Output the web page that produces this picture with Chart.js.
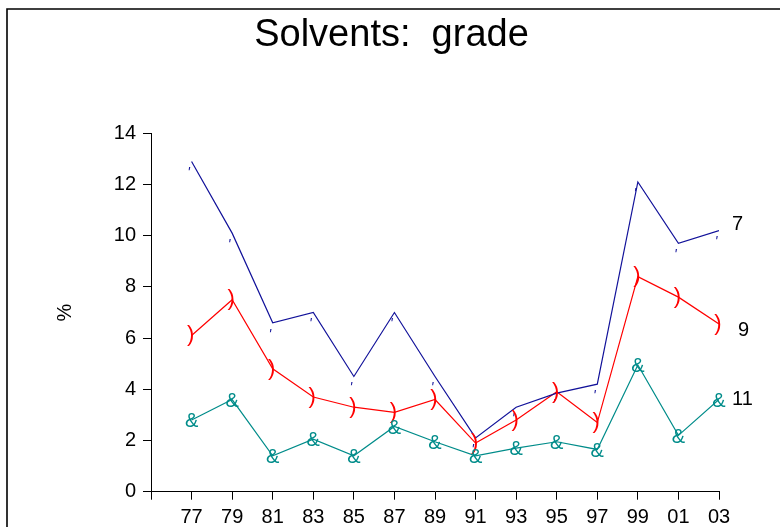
<!DOCTYPE html>
<html>
<head>
<meta charset="utf-8">
<script src="https://cdn.jsdelivr.net/npm/chart.js@4/dist/chart.umd.min.js"></script>
<style>
  html, body { margin: 0; padding: 0; background: #fff; }
  #wrap { width: 780px; height: 527px; }
</style>
</head>
<body>
<div id="wrap"><canvas id="chart" width="780" height="527"></canvas></div>
<script>
const years = ['77', '79', '81', '83', '85', '87', '89', '91', '93', '95', '97', '99', '01', '03'];
const seriesNames = ['7', '9', '11'];
const grade7 = [12.9, 10.1, 6.6, 7.0, 4.5, 7.0, 4.5, 2.1, 3.3, 3.85, 4.2, 12.1, 9.7, 10.2];
const grade9 = [6.1, 7.5, 4.8, 3.7, 3.3, 3.1, 3.6, 1.9, 2.8, 3.9, 2.7, 8.4, 7.6, 6.55];
const grade11 = [2.8, 3.6, 1.4, 2.05, 1.4, 2.55, 1.95, 1.4, 1.7, 1.95, 1.65, 4.95, 2.2, 3.6];
const yTicks = [0, 2, 4, 6, 8, 10, 12, 14];

const FONT = "'Liberation Sans', Arial, Helvetica, sans-serif";

// glyph markers drawn on top of each point, plus the series name at the line end
const markerStyle = [
  { glyph: "'", font: 'italic 14px ' + FONT, dx: -3, dy: 7.5 + 8.3, lab: { dx: 13, dy: -6 } },
  { glyph: ')', font: '22px ' + FONT, dx: -1, dy: 5.7, lab: { dx: 19, dy: 6 } },
  { glyph: '&', font: '20px ' + FONT, dx: 0, dy: 7.2, lab: { dx: 13, dy: 0 } }
];

const frame = {
  id: 'frame',
  beforeDraw(chart) {
    const ctx = chart.ctx;
    ctx.save();
    ctx.fillStyle = '#fff';
    ctx.fillRect(0, 0, chart.width, chart.height);
    ctx.strokeStyle = '#000';
    ctx.lineWidth = 1.6;
    ctx.beginPath();
    ctx.moveTo(7, chart.height + 2);
    ctx.lineTo(7, 9);
    ctx.lineTo(chart.width + 2, 9);
    ctx.stroke();
    ctx.restore();
  }
};

const markers = {
  id: 'markers',
  afterDatasetsDraw(chart) {
    const ctx = chart.ctx;
    chart.data.datasets.forEach((ds, di) => {
      const meta = chart.getDatasetMeta(di);
      const m = markerStyle[di];
      ctx.save();
      ctx.font = m.font;
      ctx.fillStyle = ds.borderColor;
      ctx.textAlign = 'center';
      ctx.textBaseline = 'alphabetic';
      meta.data.forEach(pt => ctx.fillText(m.glyph, pt.x + m.dx, pt.y + m.dy));
      const last = meta.data[meta.data.length - 1];
      ctx.font = '20px ' + FONT;
      ctx.fillStyle = '#000';
      ctx.textAlign = 'left';
      ctx.textBaseline = 'middle';
      ctx.fillText(seriesNames[di], last.x + m.lab.dx, last.y + m.lab.dy);
      ctx.restore();
    });
  }
};

function toPoints(arr) {
  return arr.map((v, i) => ({ x: i, y: v }));
}

new Chart(document.getElementById('chart').getContext('2d'), {
  type: 'line',
  data: {
    datasets: [
      { label: seriesNames[0], data: toPoints(grade7), borderColor: '#12129a', borderWidth: 1.2, pointRadius: 0, tension: 0 },
      { label: seriesNames[1], data: toPoints(grade9), borderColor: '#ff0000', borderWidth: 1.2, pointRadius: 0, tension: 0 },
      { label: seriesNames[2], data: toPoints(grade11), borderColor: '#008c8a', borderWidth: 1.2, pointRadius: 0, tension: 0 }
    ]
  },
  options: {
    responsive: false,
    animation: false,
    layout: { padding: { left: 3, right: 0, top: 0, bottom: 0 } },
    plugins: {
      legend: { display: false },
      tooltip: { enabled: false },
      title: {
        display: true,
        text: 'Solvents:  grade',
        color: '#000',
        font: { family: FONT, size: 38, weight: 'normal' },
        padding: { top: 12.3, bottom: 75.4 }
      }
    },
    scales: {
      x: {
        type: 'linear',
        min: -1,
        max: years.length - 1,
        afterBuildTicks: (scale) => {
          scale.ticks = years.map((_, i) => ({ value: i })).concat([{ value: -1 }]);
        },
        ticks: {
          autoSkip: false,
          maxRotation: 0,
          padding: 6,
          color: '#000',
          font: { family: FONT, size: 20 },
          callback: (v) => (v >= 0 ? years[v] : '')
        },
        grid: { drawOnChartArea: false, tickLength: 8, tickColor: '#000' },
        border: { color: '#000', width: 1 },
        afterFit: (scale) => { scale.height = 35.3; }
      },
      y: {
        min: 0,
        max: 14,
        afterBuildTicks: (scale) => {
          scale.ticks = yTicks.map(v => ({ value: v }));
        },
        ticks: {
          padding: 7,
          color: '#000',
          font: { family: FONT, size: 20 }
        },
        grid: { drawOnChartArea: false, tickLength: 8, tickColor: '#000' },
        border: { color: '#000', width: 1 },
        title: {
          display: true,
          text: '%',
          color: '#000',
          font: { family: FONT, size: 20 },
          padding: { top: 50, bottom: 0 }
        },
        afterFit: (scale) => { scale.width = 148; }
      },
      // empty right-hand axis that only reserves room for the series names
      side: {
        position: 'right',
        min: 0,
        max: 14,
        ticks: { display: false },
        grid: { display: false },
        border: { display: false },
        afterFit: (scale) => { scale.width = 61; }
      }
    }
  },
  plugins: [frame, markers]
});
</script>
</body>
</html>
